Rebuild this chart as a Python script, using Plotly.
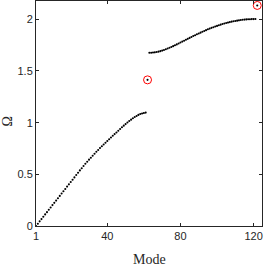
import plotly.graph_objects as go

# Acoustic branch (modes 1..61)
acoustic_modes = list(range(1, 62))
acoustic_omega = [
    0.000, 0.022, 0.045, 0.067, 0.090, 0.112, 0.134, 0.157, 0.179, 0.202,
    0.224, 0.246, 0.269, 0.291, 0.314, 0.336, 0.358, 0.381, 0.403, 0.426,
    0.448, 0.470, 0.493, 0.515, 0.538, 0.559, 0.581, 0.602, 0.622, 0.642,
    0.661, 0.680, 0.699, 0.718, 0.736, 0.754, 0.771, 0.789, 0.806, 0.823,
    0.840, 0.856, 0.873, 0.889, 0.905, 0.922, 0.939, 0.955, 0.971, 0.986,
    1.001, 1.016, 1.029, 1.042, 1.054, 1.065, 1.075, 1.083, 1.089, 1.094,
    1.097,
]

# Optical branch (modes 63..121)
optical_modes = list(range(63, 122))
optical_omega = [
    1.676, 1.676, 1.678, 1.680, 1.683, 1.687, 1.692, 1.697, 1.703, 1.710,
    1.717, 1.724, 1.732, 1.740, 1.749, 1.757, 1.766, 1.775, 1.784, 1.793,
    1.802, 1.811, 1.820, 1.829, 1.838, 1.846, 1.855, 1.863, 1.871, 1.880,
    1.887, 1.895, 1.903, 1.910, 1.917, 1.923, 1.930, 1.936, 1.942, 1.948,
    1.954, 1.959, 1.964, 1.968, 1.973, 1.977, 1.981, 1.984, 1.987, 1.990,
    1.993, 1.995, 1.997, 1.999, 2.000, 2.001, 2.002, 2.002, 2.003,
]

# Highlighted (localized) modes
special_modes = [62, 122]
special_omega = [1.414, 2.134]

x_ticks = [1, 40, 80, 120]
y_ticks = [0, 0.5, 1, 1.5, 2]

all_modes = acoustic_modes + special_modes[:1] + optical_modes + special_modes[1:]
all_omega = acoustic_omega + special_omega[:1] + optical_omega + special_omega[1:]

fig = go.Figure()
fig.add_trace(go.Scatter(
    x=all_modes, y=all_omega, mode="markers",
    marker=dict(color="black", size=2.1, line=dict(width=0)),
    showlegend=False, hoverinfo="skip", cliponaxis=False,
))
fig.add_trace(go.Scatter(
    x=special_modes, y=special_omega, mode="markers",
    marker=dict(symbol="circle-open", color="#ff0000", size=8,
                line=dict(width=1, color="#ff0000")),
    showlegend=False, hoverinfo="skip", cliponaxis=False,
))

axis_common = dict(
    showgrid=False, zeroline=False, showline=True, mirror="ticks",
    linecolor="#262626", linewidth=1, ticks="inside", ticklen=3,
    tickcolor="#262626", tickwidth=1,
    tickfont=dict(family="Liberation Sans, Arial, sans-serif", size=11, color="#262626"),
)

fig.update_layout(
    width=266, height=266,
    margin=dict(l=36, r=4, t=1, b=40),
    paper_bgcolor="white", plot_bgcolor="white",
    xaxis=dict(range=[1, 124.6], tickvals=x_ticks,
               ticktext=[str(v) for v in x_ticks], **axis_common),
    yaxis=dict(range=[0, 2.177], tickvals=y_ticks,
               ticktext=["0", "0.5", "1", "1.5", "2"], **axis_common),
    annotations=[
        dict(text="Mode", xref="paper", yref="paper", x=0.5, y=-0.147,
             xanchor="center", yanchor="middle", showarrow=False,
             font=dict(family="Liberation Serif, DejaVu Serif, serif", size=14, color="#262626")),
        dict(text="Ω", xref="paper", yref="paper", x=-0.126, y=0.462,
             xanchor="center", yanchor="middle", showarrow=False, textangle=-90,
             font=dict(family="Liberation Serif, DejaVu Serif, serif", size=14, color="#262626")),
    ],
)

fig.write_html(
    "out.html",
    config={"displayModeBar": False},
    post_script="document.body.style.margin='0';document.body.style.overflow='hidden';",
)
